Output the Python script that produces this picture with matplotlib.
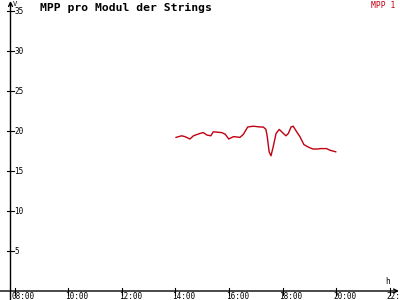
import matplotlib
matplotlib.use("Agg")
import matplotlib.pyplot as plt

hours = [14.02, 14.23, 14.35, 14.54, 14.67, 14.92, 15.04, 15.17, 15.32, 15.41, 15.73,
         15.86, 15.99, 16.17, 16.41, 16.54, 16.70, 16.91, 17.16, 17.28, 17.38, 17.43,
         17.50, 17.57, 17.65, 17.76, 17.88, 18.03, 18.13, 18.22, 18.32, 18.40, 18.53,
         18.65, 18.80, 18.96, 19.13, 19.34, 19.40, 19.65, 19.77, 19.99]
mpp1 = [19.2, 19.4, 19.3, 19.0, 19.4, 19.7, 19.8, 19.5, 19.4, 19.9, 19.8,
        19.6, 19.0, 19.3, 19.2, 19.6, 20.5, 20.6, 20.5, 20.5, 20.2, 19.3,
        17.4, 16.9, 18.0, 19.7, 20.2, 19.7, 19.4, 19.7, 20.5, 20.6, 19.9,
        19.3, 18.3, 18.0, 17.75, 17.75, 17.8, 17.8, 17.6, 17.4]
y_ticks = [5, 10, 15, 20, 25, 30, 35]
x_ticks = [8, 10, 12, 14, 16, 18, 20, 22]
x_labels = ["08:00", "10:00", "12:00", "14:00", "16:00", "18:00", "20:00", "22:00"]
title = "MPP pro Modul der Strings"
series_name = "MPP 1"

fig = plt.figure(figsize=(4, 3), dpi=100)
ax = fig.add_axes([0, 0, 1, 1])
ax.set_axis_off()
# pixel mapping: x_px = 15 + (t-8)*26.75 ; y_px(from top) = 291 - v*8
pxh = 26.75
pxv = 8.0
x0 = 8 - 15 / pxh
x1 = 8 + 385 / pxh
y1 = 291 / pxv
y0 = -9 / pxv
ax.set_xlim(x0, x1)
ax.set_ylim(y0, y1)

def tx(px):
    return x0 + px / pxh

def ty(py):
    return (291 - py) / pxv

axis_x = tx(10.5)
mono = "DejaVu Sans Mono"
ax.annotate("", xy=(axis_x, ty(1)), xytext=(axis_x, y0),
            arrowprops=dict(arrowstyle="->", lw=1, color="black", shrinkA=0, shrinkB=0,
                            mutation_scale=7))
ax.annotate("", xy=(tx(399), 0), xytext=(x0, 0),
            arrowprops=dict(arrowstyle="->", lw=1, color="black", shrinkA=0, shrinkB=0,
                            mutation_scale=7))

for v in y_ticks:
    ax.plot([tx(7), tx(14)], [v, v], color="black", lw=0.8)
    ax.text(tx(14.5), v, str(v), fontsize=5.5, family=mono, va="center", ha="left")
for t, lab in zip(x_ticks, x_labels):
    ax.plot([t, t], [ty(288), ty(295)], color="black", lw=0.8)
    ax.text(t - 3 / pxh, ty(299), lab, fontsize=5.5, family=mono, va="baseline", ha="left")

ax.text(tx(13), ty(4), "V", fontsize=5, family=mono, va="center", ha="left")
ax.text(tx(385), ty(282), "h", fontsize=5.5, family=mono, va="center", ha="left")

ax.plot(hours, mpp1, color="#c00010", lw=1.0)

fig.text(40 / 400, 1 - 8 / 300, title, fontsize=8.2, family=mono, weight="bold",
         va="center", ha="left")
fig.text(395 / 400, 1 - 1 / 300, series_name, fontsize=5.8, family=mono, color="#c00010",
         va="top", ha="right")

fig.savefig("out.png", dpi=100, facecolor="white")
